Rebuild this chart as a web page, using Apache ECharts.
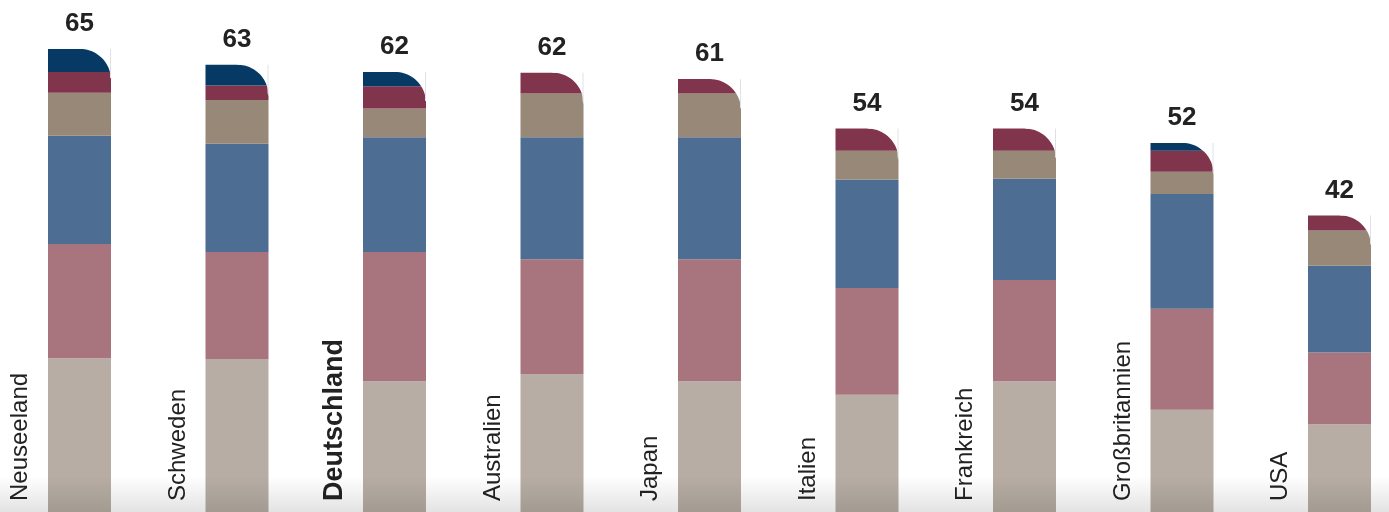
<!DOCTYPE html>
<html>
<head>
<meta charset="utf-8">
<script src="https://cdn.jsdelivr.net/npm/echarts@6/dist/echarts.min.js"></script>
<style>
html, body { margin: 0; padding: 0; background: #fff; }
#main { width: 1389px; height: 512px; }
</style>
</head>
<body>
<div id="main"></div>
<script>
var countries = ['Neuseeland', 'Schweden', 'Deutschland', 'Australien', 'Japan', 'Italien', 'Frankreich', 'Großbritannien', 'USA'];
var totals = [65, 63, 62, 62, 61, 54, 54, 52, 42];

// stacked parts, bottom to top
var partBeige = [21.9, 21.8, 18.7, 19.7, 18.7, 16.8, 18.7, 14.7, 12.7];
var partMauve = [15.9, 14.9, 18.0, 16.0, 17.0, 14.9, 14.1, 14.1, 10.0];
var partBlue  = [15.1, 15.1, 16.0, 17.0, 17.0, 15.1, 14.1, 16.0, 12.1];
var partTaupe = [6.0, 6.1, 4.0, 6.1, 6.1, 4.0, 3.9, 3.1, 4.9];
var partWine  = [2.9, 2.0, 3.1, 2.9, 2.0, 3.1, 3.1, 2.9, 2.1];
var partNavy  = [3.2, 2.9, 2.0, 0, 0, 0, 0, 1.1, 0];

var parts = [partBeige, partMauve, partBlue, partTaupe, partWine, partNavy];
var colors = ['#b7ada4', '#a8747e', '#4e6d93', '#988878', '#80354c', '#063964'];
var highlight = 'Deutschland';

var BAR_W = 63;

var stackTops = countries.map(function (c, i) {
    var s = 0;
    parts.forEach(function (p) { s += p[i]; });
    return s;
});

var myChart = echarts.init(document.getElementById('main'));

var series = parts.map(function (p, k) {
    return {
        type: 'bar',
        stack: 'all',
        barWidth: BAR_W,
        data: p,
        itemStyle: { color: colors[k] },
        silent: true
    };
});

// white mask cutting the rounded top-right corner + total label
series.push({
    type: 'custom',
    z: 10,
    clip: false,
    data: stackTops.map(function (v, i) { return [i, v, totals[i]]; }),
    renderItem: function (params, api) {
        var top = api.coord([api.value(0), api.value(1)]);
        var r = 31;
        var x1 = top[0] + BAR_W / 2, y0 = top[1];
        var pts = [[x1 - r, y0 - 1.5], [x1 + 1.5, y0 - 1.5], [x1 + 1.5, y0 + r]];
        for (var k = 0; k <= 20; k++) {
            var a = (k / 20) * Math.PI / 2;
            pts.push([x1 - r + r * Math.cos(a), y0 + r - r * Math.sin(a)]);
        }
        return {
            type: 'group',
            children: [
                { type: 'polygon', shape: { points: pts }, style: { fill: '#fff' } },
                { type: 'line', shape: { x1: x1 - 0.5, y1: y0, x2: x1 - 0.5, y2: y0 + r - 2 },
                  style: { stroke: '#dde2ea', lineWidth: 1 } },
                { type: 'text', x: top[0], y: y0 - 25,
                  style: { text: String(api.value(2)), align: 'center', verticalAlign: 'middle',
                           font: 'bold 26px "Liberation Sans", Arial, sans-serif', fill: '#222' } }
            ]
        };
    }
});

// rotated country names to the left of each bar
series.push({
    type: 'custom',
    z: 11,
    clip: false,
    data: countries.map(function (c, i) { return [i, 0]; }),
    renderItem: function (params, api) {
        var base = api.coord([api.value(0), 0]);
        var name = countries[params.dataIndex];
        var bold = name === highlight;
        return {
            type: 'text',
            x: base[0] - (bold ? 60 : 59),
            y: 501,
            rotation: Math.PI / 2,
            style: {
                text: name,
                align: 'left',
                verticalAlign: 'middle',
                font: (bold ? 'bold 27px' : '24px') + ' "Liberation Sans", Arial, sans-serif',
                fill: '#222'
            }
        };
    }
});

var option = {
    animation: false,
    grid: { left: 0.75, top: 13.1, width: 1417.5, height: 502.2, outerBoundsMode: 'none', containLabel: false },
    xAxis: {
        type: 'category',
        data: countries,
        show: false
    },
    yAxis: {
        type: 'value',
        min: 0,
        max: 70,
        show: false
    },
    graphic: [{
        type: 'rect',
        left: 0,
        bottom: 0,
        z: 100,
        silent: true,
        shape: { width: 1389, height: 36 },
        style: {
            fill: new echarts.graphic.LinearGradient(0, 0, 0, 1, [
                { offset: 0, color: 'rgba(0,0,0,0)' },
                { offset: 1, color: 'rgba(0,0,0,0.11)' }
            ])
        }
    }],
    series: series
};

myChart.setOption(option);
</script>
</body>
</html>
